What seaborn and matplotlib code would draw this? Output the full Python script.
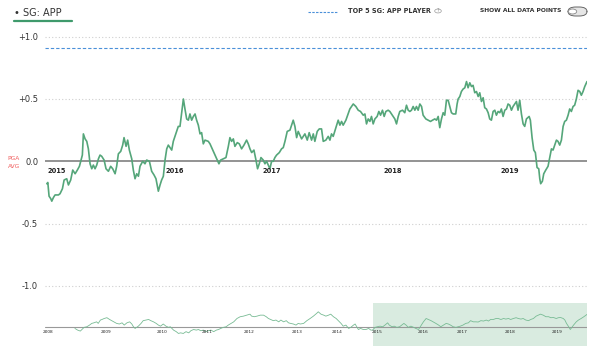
import numpy as np
import pandas as pd
import matplotlib
matplotlib.use("Agg")
import matplotlib.pyplot as plt
import seaborn as sns
from matplotlib.lines import Line2D
from matplotlib.patches import FancyBboxPatch, Circle

sns.set_style("white")
plt.rcParams['font.family'] = ['DejaVu Sans']

# ---------------- data ----------------
# main chart: years since 2015.0 and strokes gained (approach) moving average
years_since_2015 = [
    0.015, 0.024, 0.035, 0.050, 0.059, 0.074, 0.088, 0.118, 0.132, 0.153,
    0.168, 0.191, 0.206, 0.226, 0.244, 0.265, 0.285, 0.303, 0.318, 0.329,
    0.338, 0.353, 0.368, 0.382, 0.397, 0.412, 0.426, 0.441, 0.456, 0.471,
    0.485, 0.500, 0.521, 0.538, 0.559, 0.579, 0.597, 0.618, 0.632, 0.647,
    0.668, 0.685, 0.697, 0.715, 0.729, 0.744, 0.765, 0.779, 0.794, 0.809,
    0.824, 0.838, 0.862, 0.882, 0.897, 0.921, 0.941, 0.962, 0.979, 1.000,
    1.015, 1.029, 1.044, 1.059, 1.074, 1.088, 1.103, 1.118, 1.132, 1.147,
    1.162, 1.176, 1.191, 1.206, 1.221, 1.235, 1.250, 1.265, 1.279, 1.294,
    1.309, 1.324, 1.338, 1.353, 1.368, 1.382, 1.397, 1.412, 1.441, 1.456,
    1.476, 1.500, 1.521, 1.535, 1.550, 1.574, 1.597, 1.618, 1.632, 1.647,
    1.662, 1.676, 1.697, 1.715, 1.735, 1.756, 1.779, 1.794, 1.809, 1.824,
    1.844, 1.862, 1.876, 1.891, 1.906, 1.926, 1.941, 1.956, 1.971, 1.985,
    2.000, 2.015, 2.029, 2.044, 2.068, 2.088, 2.103, 2.118, 2.138, 2.162,
    2.176, 2.191, 2.206, 2.221, 2.235, 2.250, 2.265, 2.294, 2.315, 2.332,
    2.353, 2.368, 2.382, 2.403, 2.421, 2.441, 2.456, 2.479, 2.500, 2.515,
    2.529, 2.544, 2.568, 2.588, 2.603, 2.618, 2.632, 2.656, 2.676, 2.691,
    2.706, 2.721, 2.744, 2.765, 2.785, 2.809, 2.824, 2.838, 2.853, 2.868,
    2.882, 2.897, 2.912, 2.932, 2.947, 2.962, 2.979, 2.994, 3.009, 3.029,
    3.044, 3.059, 3.074, 3.088, 3.103, 3.118, 3.132, 3.156, 3.176, 3.191,
    3.206, 3.221, 3.235, 3.250, 3.265, 3.279, 3.294, 3.309, 3.324, 3.338,
    3.362, 3.382, 3.403, 3.421, 3.441, 3.456, 3.471, 3.485, 3.500, 3.515,
    3.529, 3.544, 3.559, 3.574, 3.588, 3.603, 3.626, 3.638, 3.647, 3.662,
    3.676, 3.691, 3.706, 3.721, 3.735, 3.750, 3.765, 3.779, 3.794, 3.809,
    3.824, 3.838, 3.853, 3.868, 3.882, 3.897, 3.912, 3.926, 3.941, 3.956,
    3.971, 3.985, 4.000, 4.015, 4.029, 4.044, 4.059, 4.074, 4.088, 4.103,
    4.118, 4.132, 4.147, 4.162, 4.176, 4.191, 4.206, 4.221, 4.235, 4.250,
    4.274, 4.285, 4.300, 4.315, 4.329, 4.344, 4.359, 4.368, 4.376, 4.391,
    4.403, 4.421, 4.441, 4.456, 4.471, 4.485, 4.500, 4.515, 4.529, 4.544,
    4.559, 4.574, 4.588, 4.603, 4.618, 4.632, 4.647, 4.662, 4.676, 4.691,
    4.706, 4.721, 4.735, 4.750, 4.765, 4.785,
]
sg_app = [
    -0.18, -0.17, -0.28, -0.30, -0.32, -0.29, -0.27, -0.27, -0.26, -0.22,
    -0.15, -0.14, -0.19, -0.15, -0.07, -0.10, -0.07, -0.04, 0.01, 0.05,
    0.22, 0.18, 0.16, 0.10, -0.02, -0.06, -0.03, -0.06, -0.03, 0.02,
    0.05, 0.04, 0.01, -0.06, -0.08, -0.04, -0.06, -0.10, -0.04, 0.06,
    0.08, 0.13, 0.19, 0.12, 0.17, 0.09, 0.02, -0.07, -0.14, -0.10,
    -0.12, -0.04, 0.00, -0.02, 0.01, 0.00, -0.08, -0.11, -0.14, -0.24,
    -0.19, -0.15, -0.12, 0.01, 0.10, 0.13, 0.11, 0.09, 0.16, 0.20,
    0.24, 0.28, 0.28, 0.39, 0.50, 0.42, 0.34, 0.33, 0.38, 0.33,
    0.36, 0.38, 0.33, 0.29, 0.22, 0.23, 0.14, 0.17, 0.16, 0.14,
    0.10, 0.05, 0.01, -0.02, 0.01, 0.02, 0.03, 0.12, 0.19, 0.16,
    0.18, 0.12, 0.15, 0.14, 0.10, 0.13, 0.17, 0.14, 0.10, 0.07,
    0.09, 0.01, -0.06, -0.02, 0.03, 0.01, -0.02, 0.00, -0.03, -0.06,
    0.00, 0.00, 0.03, 0.05, 0.07, 0.10, 0.11, 0.16, 0.24, 0.25,
    0.29, 0.33, 0.28, 0.19, 0.24, 0.21, 0.18, 0.22, 0.17, 0.23,
    0.17, 0.22, 0.16, 0.24, 0.26, 0.26, 0.16, 0.17, 0.20, 0.17,
    0.22, 0.20, 0.27, 0.33, 0.29, 0.32, 0.29, 0.33, 0.38, 0.42,
    0.44, 0.46, 0.44, 0.41, 0.40, 0.37, 0.38, 0.30, 0.34, 0.32,
    0.36, 0.30, 0.34, 0.36, 0.40, 0.37, 0.41, 0.36, 0.40, 0.41,
    0.40, 0.38, 0.36, 0.34, 0.30, 0.36, 0.40, 0.41, 0.39, 0.45,
    0.41, 0.40, 0.41, 0.44, 0.41, 0.44, 0.41, 0.46, 0.44, 0.37,
    0.34, 0.33, 0.32, 0.33, 0.34, 0.33, 0.36, 0.27, 0.34, 0.39,
    0.37, 0.49, 0.49, 0.44, 0.39, 0.38, 0.38, 0.46, 0.50, 0.52,
    0.56, 0.58, 0.59, 0.64, 0.59, 0.63, 0.60, 0.61, 0.55, 0.56,
    0.52, 0.55, 0.48, 0.51, 0.43, 0.42, 0.39, 0.34, 0.33, 0.40,
    0.41, 0.37, 0.40, 0.39, 0.42, 0.36, 0.41, 0.42, 0.46, 0.45,
    0.41, 0.44, 0.46, 0.48, 0.41, 0.49, 0.38, 0.30, 0.28, 0.34,
    0.36, 0.33, 0.19, 0.09, 0.07, -0.05, -0.06, -0.14, -0.18, -0.16,
    -0.10, -0.07, -0.04, 0.03, 0.10, 0.09, 0.13, 0.17, 0.16, 0.13,
    0.17, 0.28, 0.32, 0.33, 0.37, 0.42, 0.40, 0.44, 0.45, 0.50,
    0.57, 0.56, 0.53, 0.56, 0.60, 0.64,
]
top5_player_avg = 0.91
y_ticks = [1.0, 0.5, 0.0, -0.5, -1.0]
y_tick_labels = ["+1.0", "+0.5", "0.0", "-0.5", "-1.0"]
main_year_labels = ["2015", "2016", "2017", "2018", "2019"]
main_year_label_pos = [2015.017, 2016.059, 2016.924, 2017.984, 2019.017]

# overview (full career, 2008-2019) : position along timeline (%) and value
ov_pos = [
    5.5, 6.0, 6.5, 6.8, 7.2, 7.7, 8.2, 8.6, 9.0, 9.5,
    9.8, 10.2, 10.5, 10.9, 11.4, 11.9, 12.3, 12.7, 13.2, 13.7,
    14.2, 14.6, 15.1, 15.6, 16.0, 16.3, 16.6, 16.9, 17.2, 17.7,
    18.1, 18.6, 19.1, 19.5, 20.0, 20.5, 20.9, 21.3, 21.8, 22.3,
    22.8, 23.1, 23.4, 23.7, 24.2, 24.6, 25.0, 25.5, 26.0, 26.5,
    26.9, 27.4, 27.9, 28.3, 28.7, 29.2, 29.7, 30.1, 30.6, 31.1,
    31.6, 32.0, 32.4, 32.9, 33.4, 33.8, 34.3, 34.8, 35.4, 36.0,
    36.6, 37.2, 37.8, 38.1, 38.6, 39.1, 39.7, 40.3, 40.8, 41.2,
    41.6, 42.1, 42.6, 43.1, 43.5, 44.0, 44.5, 44.9, 45.3, 45.8,
    46.3, 46.7, 47.1,
    47.7, 48.3, 48.9, 49.5, 50.1, 50.4, 50.9, 51.4, 51.8, 52.3,
    52.7, 53.2, 53.7, 54.1, 54.6, 55.0, 55.5, 56.0, 56.4, 56.9,
    57.2, 57.5, 57.8, 58.2, 58.7, 59.2, 59.7, 60.1, 60.4, 60.9,
    61.3, 61.8, 62.3, 62.7, 63.2, 63.5, 64.0, 64.4, 64.9, 65.4,
    65.8, 66.2, 66.6, 67.0, 67.5, 68.0, 68.4, 68.9, 69.3, 69.8,
    70.3, 70.7, 71.2, 71.6, 72.1, 72.6, 73.0, 73.5, 74.0, 74.4,
    74.8, 75.3, 75.8, 76.2, 76.6, 77.1, 77.6, 78.1, 78.5, 79.0,
    79.5, 79.9, 80.4, 80.9, 81.4, 81.8, 82.2, 82.7, 83.2, 83.6,
    84.1, 84.6, 85.0, 85.5, 85.9, 86.4, 86.9, 87.3, 87.8, 88.2,
    88.7, 89.2, 89.6, 90.1, 90.6, 91.0, 91.4, 91.9, 92.4, 92.9,
    93.3, 93.8, 94.3, 94.7, 95.1, 95.6, 95.9, 96.2, 96.6, 96.9,
    97.2, 97.5, 98.0, 98.4, 98.9, 99.4, 99.8, 100.0,
]
ov_vals = [
    -0.085, -0.17, -0.22, -0.14, -0.03, 0.0, 0.085, 0.17, 0.20, 0.25,
    0.17, 0.34, 0.37, 0.42, 0.46, 0.37, 0.31, 0.25, 0.17, 0.14,
    0.20, 0.085, 0.20, 0.25, 0.14, 0.0, -0.085, -0.03, 0.03, 0.17,
    0.31, 0.34, 0.37, 0.31, 0.25, 0.17, 0.085, 0.03, 0.14, 0.03,
    -0.03, 0.0, -0.085, -0.17, -0.25, -0.34, -0.31, -0.34, -0.25, -0.31,
    -0.20, -0.14, -0.17, -0.14, -0.20, -0.17, -0.25, -0.20, -0.17, -0.25,
    -0.17, -0.14, -0.085, -0.03, 0.0, 0.085, 0.17, 0.25, 0.42, 0.51,
    0.54, 0.59, 0.64, 0.54, 0.51, 0.54, 0.59, 0.59, 0.51, 0.42,
    0.37, 0.31, 0.34, 0.25, 0.34, 0.25, 0.31, 0.20, 0.17, 0.14,
    0.085, 0.17, 0.14,
    0.17, 0.31, 0.42, 0.54, 0.68, 0.76, 0.64, 0.59, 0.54, 0.59,
    0.64, 0.51, 0.42, 0.31, 0.17, 0.03, 0.085, -0.085, -0.03, 0.085,
    0.14, 0.0, -0.14, -0.085, -0.14, -0.14, -0.085, -0.17, -0.17, -0.03,
    0.0, 0.03, 0.0, 0.085, 0.20, 0.085, 0.0, 0.03, -0.03, 0.0,
    0.085, 0.17, 0.085, -0.03, 0.03, -0.03, -0.085, -0.14, 0.03, 0.25,
    0.42, 0.37, 0.31, 0.25, 0.17, 0.085, 0.0, 0.085, 0.17, 0.14,
    0.085, 0.0, -0.03, 0.0, 0.03, 0.085, 0.17, 0.20, 0.31, 0.25,
    0.25, 0.24, 0.31, 0.29, 0.34, 0.29, 0.37, 0.37, 0.42, 0.42,
    0.37, 0.42, 0.39, 0.42, 0.37, 0.42, 0.46, 0.42, 0.39, 0.42,
    0.34, 0.31, 0.37, 0.42, 0.54, 0.59, 0.64, 0.59, 0.51, 0.51,
    0.46, 0.47, 0.42, 0.46, 0.47, 0.42, 0.34, 0.17, 0.0, -0.14,
    -0.03, 0.085, 0.25, 0.34, 0.42, 0.51, 0.59, 0.63,
]
ov_year_labels = ["2008", "2009", "2010", "2011", "2012", "2013",
                  "2014", "2015", "2016", "2017", "2018", "2019"]
ov_year_label_pos = [0.6, 11.3, 21.6, 29.9, 37.6, 46.5,
                     53.9, 61.3, 69.7, 76.9, 85.8, 94.5]
ov_window = (60.5, 100.0)

n = min(len(years_since_2015), len(sg_app))
main_df = pd.DataFrame({"year": 2015 + np.array(years_since_2015[:n]),
                        "sg": sg_app[:n]})
m = min(len(ov_pos), len(ov_vals))
ov_df = pd.DataFrame({"pos": ov_pos[:m], "sg": ov_vals[:m]})

GREEN = "#55a67a"
GREEN_LIGHT = "#78bb94"
BLUE = "#4a90d9"
W, H = 600, 355

fig = plt.figure(figsize=(6, 3.55), dpi=100)

def fx(px):
    return px / W

def fy(py):
    return 1 - py / H

# ---------------- main axes ----------------
ax = fig.add_axes([fx(45.1), fy(295), 542 / W, 275 / H])
ax.set_facecolor("none")
for yv in [1.0, 0.5, -0.5, -1.0]:
    ax.axhline(yv, color="#cfcfcf", lw=0.8, ls=(0, (1, 2)), zorder=1)
ax.axhline(0.0, color="#8a8a8a", lw=1.3, zorder=2)
ax.axhline(top5_player_avg, color=BLUE, lw=0.8, ls=(0, (3, 1.8)), zorder=2)
sns.lineplot(data=main_df, x="year", y="sg", ax=ax, color=GREEN, lw=1.2,
             estimator=None, sort=False, zorder=3)
ax.set_xlim(2015.0, 2015 + 542 / 113.25)
ax.set_ylim(-1.073, 1.134)
ax.set_xticks([])
ax.set_yticks(y_ticks)
ax.set_yticklabels(y_tick_labels, fontsize=6, color="#333333")
ax.tick_params(axis="y", length=0, pad=5)
ax.set_xlabel("")
ax.set_ylabel("")
for s in ax.spines.values():
    s.set_visible(False)
for lab, xp in zip(main_year_labels, main_year_label_pos):
    ax.text(xp, -0.08, lab, ha="left", va="center", fontsize=4.8,
            fontweight="bold", color="#222222")

# PGA AVG label
fig.text(fx(14), fy(158), "PGA", ha="center", va="center", fontsize=4.2,
         color="#f05a5a")
fig.text(fx(14), fy(166), "AVG", ha="center", va="center", fontsize=4.2,
         color="#f05a5a")

# ---------------- overview axes ----------------
ov = fig.add_axes([fx(45.1), fy(348), 542 / W, 48 / H])
ov.set_facecolor("none")
ov.axvspan(ov_window[0], ov_window[1], ymin=0.04, ymax=0.944,
           color="#d9ebe0", lw=0, zorder=0)
ov.axhline(0.0, color="#999999", lw=0.8, zorder=1)
sns.lineplot(data=ov_df, x="pos", y="sg", ax=ov, color=GREEN_LIGHT, lw=0.6,
             estimator=None, sort=False, zorder=2)
ov.set_xlim(0, 100)
ov.set_ylim(-1.08, 1.36)
ov.set_xticks([])
ov.set_yticks([])
ov.set_xlabel("")
ov.set_ylabel("")
for s in ov.spines.values():
    s.set_visible(False)
for lab, xp in zip(ov_year_labels, ov_year_label_pos):
    ov.text(xp, -0.27, lab, ha="center", va="center", fontsize=3.1,
            color="#222222")

# ---------------- header / legend ----------------
fig.text(fx(14), fy(13), "\u2022 SG: APP", ha="left", va="center",
         fontsize=7, color="#333333")
fig.add_artist(Line2D([fx(14), fx(72)], [fy(20.7), fy(20.7)],
                      color="#3f9a6c", lw=1.6))
fig.add_artist(Line2D([fx(308), fx(338)], [fy(12), fy(12)], color=BLUE,
                      lw=0.8, ls=(0, (2.2, 1.2))))
fig.text(fx(348), fy(11), "TOP 5 SG: APP PLAYER", ha="left", va="center",
         fontsize=4.7, fontweight="bold", color="#333333")
fig.add_artist(Circle((fx(438), fy(11)), 3.3 / W, transform=fig.transFigure,
                      facecolor="white", edgecolor="#999999", lw=0.5))
fig.text(fx(438), fy(11), "?", ha="center", va="center", fontsize=3.5,
         color="#888888")
fig.text(fx(480), fy(11), "SHOW ALL DATA POINTS", ha="left", va="center",
         fontsize=4.3, fontweight="bold", color="#333333")
fig.add_artist(FancyBboxPatch((fx(568), fy(16)), 19 / W, 9 / H,
                              boxstyle="round,pad=0,rounding_size=0.013",
                              transform=fig.transFigure, facecolor="#e6e6e6",
                              edgecolor="#666666", lw=0.7))
fig.add_artist(Circle((fx(572.5), fy(11.5)), 4.2 / W, transform=fig.transFigure,
                      facecolor="white", edgecolor="#888888", lw=0.6))

fig.savefig("out.png", dpi=100)
